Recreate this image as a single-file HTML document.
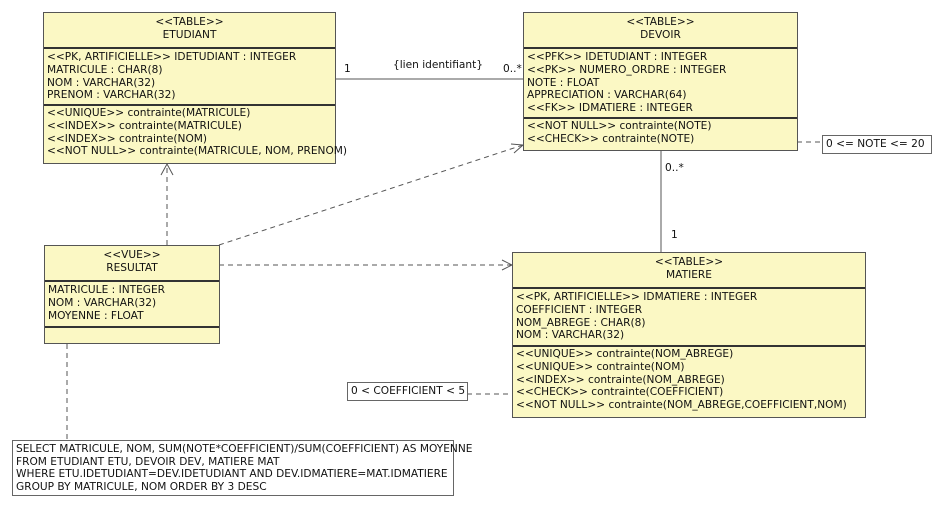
<html><head><style>
body{margin:0;background:#fff;width:945px;height:506px;position:relative;overflow:hidden;font-family:"DejaVu Sans","Liberation Sans",sans-serif;font-size:10.6px;color:#111}
.b{position:absolute;background:#fbf8c4;border:1px solid #555;box-sizing:border-box}
.h{text-align:center;line-height:13px;padding-top:3px;border-bottom:2px solid #333;box-sizing:border-box}
.s{padding-left:3px;line-height:12.8px;border-bottom:2px solid #333;box-sizing:border-box;white-space:nowrap}
.t{position:absolute;white-space:nowrap}
.n{position:absolute;border:1px solid #666;background:#fff;white-space:nowrap;padding:1px 3px;box-sizing:border-box}
</style></head><body>
<svg width="945" height="506" style="position:absolute;left:0;top:0">
<g stroke="#555" fill="none" stroke-width="1">
<line x1="335" y1="79" x2="523" y2="79"/>
<line x1="661" y1="150" x2="661" y2="252"/>
<g stroke-dasharray="5,4">
<line x1="167" y1="245" x2="167" y2="164"/>
<line x1="219" y1="245" x2="523" y2="145"/>
<line x1="219" y1="265" x2="512" y2="265"/>
<line x1="797" y1="142" x2="822" y2="142"/>
<line x1="467" y1="394" x2="512" y2="394"/>
<line x1="67" y1="344" x2="67" y2="440"/>
</g>
<polyline points="161,175 167,164 173,175"/>
<polyline points="511,144 523,145 514,153"/>
<polyline points="502,260 512,265 502,270"/>
</g>
</svg>
<div class="b" style="left:43px;top:12px;width:293px;height:152px">
<div class="h" style="height:36px">&lt;&lt;TABLE&gt;&gt;<br>ETUDIANT</div>
<div class="s" style="height:57px;padding-top:2px">&lt;&lt;PK, ARTIFICIELLE&gt;&gt; IDETUDIANT : INTEGER<br>MATRICULE : CHAR(8)<br>NOM : VARCHAR(32)<br>PRENOM : VARCHAR(32)</div>
<div class="s" style="border:0;padding-top:1px">&lt;&lt;UNIQUE&gt;&gt; contrainte(MATRICULE)<br>&lt;&lt;INDEX&gt;&gt; contrainte(MATRICULE)<br>&lt;&lt;INDEX&gt;&gt; contrainte(NOM)<br>&lt;&lt;NOT NULL&gt;&gt; contrainte(MATRICULE, NOM, PRENOM)</div>
</div>
<div class="b" style="left:523px;top:12px;width:275px;height:139px">
<div class="h" style="height:36px">&lt;&lt;TABLE&gt;&gt;<br>DEVOIR</div>
<div class="s" style="height:70px;padding-top:2px">&lt;&lt;PFK&gt;&gt; IDETUDIANT : INTEGER<br>&lt;&lt;PK&gt;&gt; NUMERO_ORDRE : INTEGER<br>NOTE : FLOAT<br>APPRECIATION : VARCHAR(64)<br>&lt;&lt;FK&gt;&gt; IDMATIERE : INTEGER</div>
<div class="s" style="border:0;padding-top:1px">&lt;&lt;NOT NULL&gt;&gt; contrainte(NOTE)<br>&lt;&lt;CHECK&gt;&gt; contrainte(NOTE)</div>
</div>
<div class="b" style="left:512px;top:252px;width:354px;height:166px">
<div class="h" style="height:36px">&lt;&lt;TABLE&gt;&gt;<br>MATIERE</div>
<div class="s" style="height:58px;padding-top:2px">&lt;&lt;PK, ARTIFICIELLE&gt;&gt; IDMATIERE : INTEGER<br>COEFFICIENT : INTEGER<br>NOM_ABREGE : CHAR(8)<br>NOM : VARCHAR(32)</div>
<div class="s" style="border:0;padding-top:1px">&lt;&lt;UNIQUE&gt;&gt; contrainte(NOM_ABREGE)<br>&lt;&lt;UNIQUE&gt;&gt; contrainte(NOM)<br>&lt;&lt;INDEX&gt;&gt; contrainte(NOM_ABREGE)<br>&lt;&lt;CHECK&gt;&gt; contrainte(COEFFICIENT)<br>&lt;&lt;NOT NULL&gt;&gt; contrainte(NOM_ABREGE,COEFFICIENT,NOM)</div>
</div>
<div class="b" style="left:44px;top:245px;width:176px;height:99px">
<div class="h" style="height:36px">&lt;&lt;VUE&gt;&gt;<br>RESULTAT</div>
<div class="s" style="height:46px;padding-top:2px">MATRICULE : INTEGER<br>NOM : VARCHAR(32)<br>MOYENNE : FLOAT</div>
</div>
<div class="t" style="left:344px;top:63px">1</div>
<div class="t" style="left:393px;top:59px">{lien identifiant}</div>
<div class="t" style="left:503px;top:63px">0..*</div>
<div class="t" style="left:665px;top:162px">0..*</div>
<div class="t" style="left:671px;top:229px">1</div>
<div class="n" style="left:822px;top:135px;width:110px;height:19px;padding-top:2px">0 &lt;= NOTE &lt;= 20</div>
<div class="n" style="left:347px;top:382px;width:121px;height:19px;padding-top:2px">0 &lt; COEFFICIENT &lt; 5</div>
<div class="n" style="left:12px;top:440px;width:442px;height:56px;line-height:12.5px;padding-top:2px;overflow:visible">SELECT MATRICULE, NOM, SUM(NOTE*COEFFICIENT)/SUM(COEFFICIENT) AS MOYENNE<br>FROM ETUDIANT ETU, DEVOIR DEV, MATIERE MAT<br>WHERE ETU.IDETUDIANT=DEV.IDETUDIANT AND DEV.IDMATIERE=MAT.IDMATIERE<br>GROUP BY MATRICULE, NOM ORDER BY 3 DESC</div>
</body></html>
